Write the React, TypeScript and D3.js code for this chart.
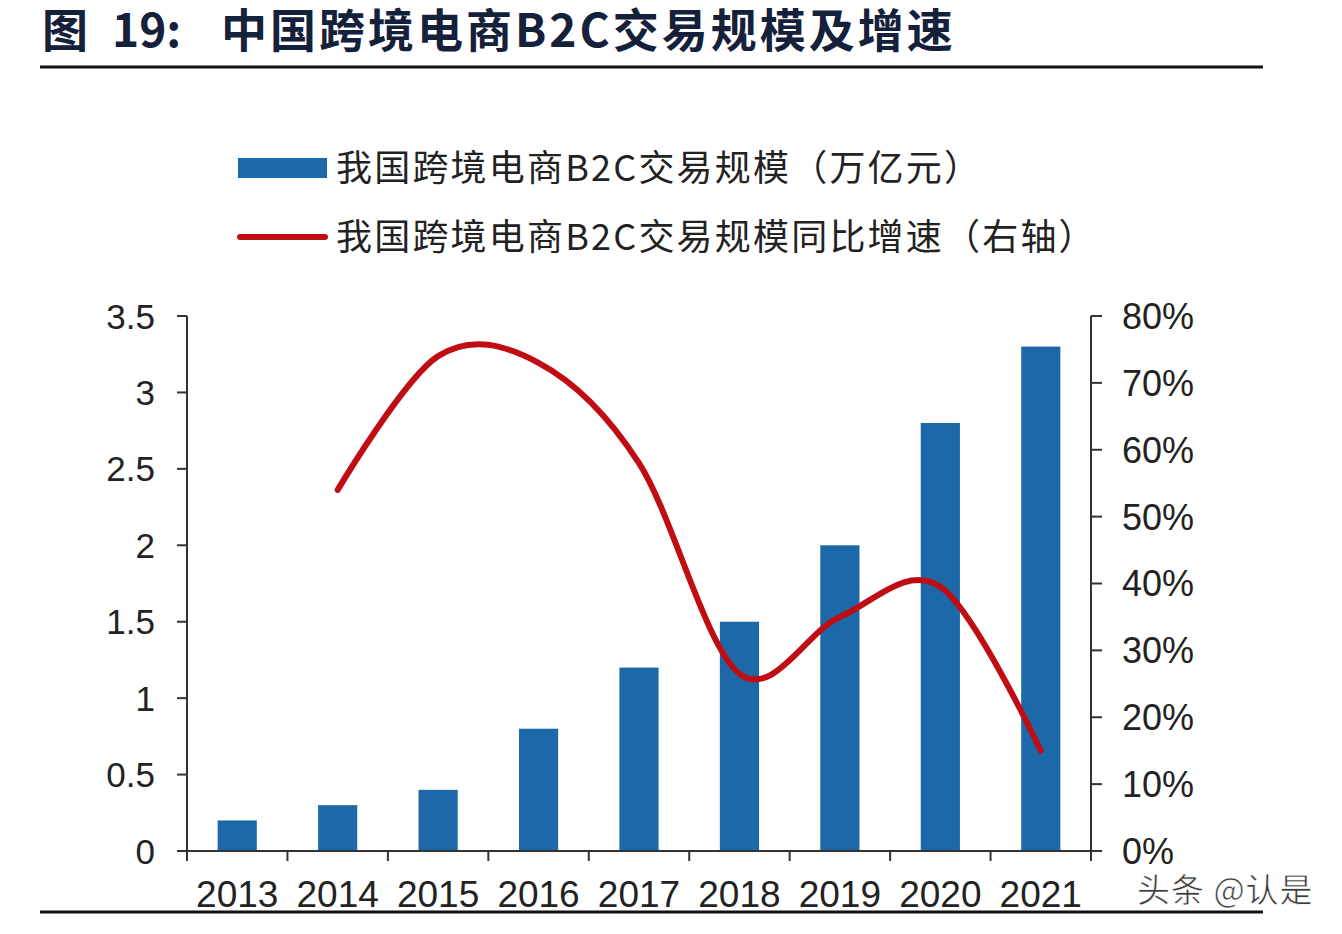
import React, { useEffect, useRef } from 'react';
import * as d3 from 'd3';

const years = ['2013', '2014', '2015', '2016', '2017', '2018', '2019', '2020', '2021'];
// 交易规模（万亿元）
const scale = [0.2, 0.3, 0.4, 0.8, 1.2, 1.5, 2.0, 2.8, 3.3];
// 同比增速（右轴），2013 has no value
const growth: (number | null)[] = [null, 0.54, 0.74, 0.73, 0.58, 0.265, 0.35, 0.395, 0.15];
const leftTicks = [0, 0.5, 1, 1.5, 2, 2.5, 3, 3.5];
const rightTicks = [0, 0.1, 0.2, 0.3, 0.4, 0.5, 0.6, 0.7, 0.8];

const W = 1342;
const H = 934;
const BAR = '#1c68a8';
const LINE = '#c00d14';
const INK = '#222';
const FONT = '"Liberation Sans", Arial, sans-serif';
const CJK = '"Noto Sans CJK SC", sans-serif';

const App: React.FC = () => {
  const svgRef = useRef<SVGSVGElement>(null);

  useEffect(() => {
    if (!svgRef.current) return;
    const svg = d3.select(svgRef.current);
    svg.selectAll('*').remove();

    const left = 187, right = 1091, top = 316, bottom = 851;

    const x = d3.scaleBand().domain(years).range([left, right]).padding(0);
    const yL = d3.scaleLinear().domain([0, 3.5]).range([bottom, top]);
    const yR = d3.scaleLinear().domain([0, 0.8]).range([bottom, top]);

    // title
    const title = svg.append('text')
      .attr('y', 47)
      .attr('font-family', CJK).attr('font-weight', 'bold')
      .attr('font-size', 46).attr('fill', '#15203a');
    title.append('tspan').attr('x', 42).text('图');
    title.append('tspan').attr('x', 112).text('19:');
    title.append('tspan').attr('x', 221).attr('letter-spacing', 3).text('中国跨境电商B2C交易规模及增速');
    svg.append('line')
      .attr('x1', 40).attr('x2', 1263).attr('y1', 67).attr('y2', 67)
      .attr('stroke', '#111').attr('stroke-width', 3);

    // legend
    svg.append('rect')
      .attr('x', 238).attr('y', 158).attr('width', 89).attr('height', 20)
      .attr('fill', BAR);
    svg.append('text')
      .attr('x', 336).attr('y', 168).attr('dy', '0.36em')
      .attr('font-family', CJK).attr('font-size', 36).attr('fill', INK)
      .attr('letter-spacing', 2.2)
      .text('我国跨境电商B2C交易规模（万亿元）');
    svg.append('line')
      .attr('x1', 240).attr('x2', 325).attr('y1', 237).attr('y2', 237)
      .attr('stroke', LINE).attr('stroke-width', 6).attr('stroke-linecap', 'round');
    svg.append('text')
      .attr('x', 336).attr('y', 237).attr('dy', '0.36em')
      .attr('font-family', CJK).attr('font-size', 36).attr('fill', INK)
      .attr('letter-spacing', 2.2)
      .text('我国跨境电商B2C交易规模同比增速（右轴）');

    // bars
    const bw = x.bandwidth() * 0.39;
    svg.append('g')
      .selectAll('rect')
      .data(years)
      .join('rect')
      .attr('x', (d) => x(d)! + (x.bandwidth() - bw) / 2)
      .attr('width', bw)
      .attr('y', (d, i) => yL(scale[i]))
      .attr('height', (d, i) => bottom - yL(scale[i]))
      .attr('fill', BAR);

    // axes
    const axes = svg.append('g').attr('stroke', '#333').attr('stroke-width', 2);
    axes.append('line').attr('x1', left).attr('x2', left).attr('y1', top).attr('y2', bottom);
    axes.append('line').attr('x1', right).attr('x2', right).attr('y1', top).attr('y2', bottom);
    axes.append('line').attr('x1', left - 10).attr('x2', right).attr('y1', bottom).attr('y2', bottom);
    axes.selectAll('.tl').data(leftTicks).join('line')
      .attr('x1', left - 10).attr('x2', left)
      .attr('y1', (d) => yL(d)).attr('y2', (d) => yL(d));
    axes.selectAll('.tr').data(rightTicks).join('line')
      .attr('x1', right).attr('x2', right + 11)
      .attr('y1', (d) => yR(d)).attr('y2', (d) => yR(d));
    const bounds = years.map((d) => x(d)!).concat([right]);
    axes.selectAll('.tb').data(bounds).join('line')
      .attr('x1', (d) => d).attr('x2', (d) => d)
      .attr('y1', bottom).attr('y2', bottom + 10);

    // tick labels
    svg.append('g').selectAll('text').data(leftTicks).join('text')
      .attr('x', 155).attr('y', (d) => yL(d)).attr('dy', '0.36em')
      .attr('text-anchor', 'end')
      .attr('font-family', FONT).attr('font-size', 35).attr('fill', INK)
      .text((d) => String(d));
    svg.append('g').selectAll('text').data(rightTicks).join('text')
      .attr('x', 1122).attr('y', (d) => yR(d)).attr('dy', '0.36em')
      .attr('font-family', FONT).attr('font-size', 36).attr('fill', INK)
      .text((d) => d3.format('.0%')(d));
    svg.append('g').selectAll('text').data(years).join('text')
      .attr('x', (d) => x(d)! + x.bandwidth() / 2).attr('y', 907)
      .attr('text-anchor', 'middle')
      .attr('font-family', FONT).attr('font-size', 37).attr('fill', INK)
      .text((d) => d);

    // growth line
    const pts = years
      .map((d, i) => ({ year: d, v: growth[i] }))
      .filter((p) => p.v !== null) as { year: string; v: number }[];
    const line = d3.line<{ year: string; v: number }>()
      .x((p) => x(p.year)! + x.bandwidth() / 2)
      .y((p) => yR(p.v))
      .curve(d3.curveCatmullRom.alpha(0));
    svg.append('path')
      .datum(pts)
      .attr('d', line)
      .attr('fill', 'none')
      .attr('stroke', LINE)
      .attr('stroke-width', 6)
      .attr('stroke-linecap', 'round');

    // bottom rule
    svg.append('line')
      .attr('x1', 40).attr('x2', 1263).attr('y1', 912).attr('y2', 912)
      .attr('stroke', '#111').attr('stroke-width', 3);

    // watermark
    svg.append('text')
      .attr('x', 1137).attr('y', 902)
      .attr('font-family', CJK).attr('font-size', 33)
      .attr('fill', '#3a3a3a').attr('stroke', '#fff').attr('stroke-width', 0.6)
      .attr('letter-spacing', 1)
      .text('头条 @认是');
  }, []);

  return (
    <svg
      ref={svgRef}
      width={W}
      height={H}
      style={{ position: 'absolute', left: 0, top: 0, background: '#fff' }}
    />
  );
};

export default App;
